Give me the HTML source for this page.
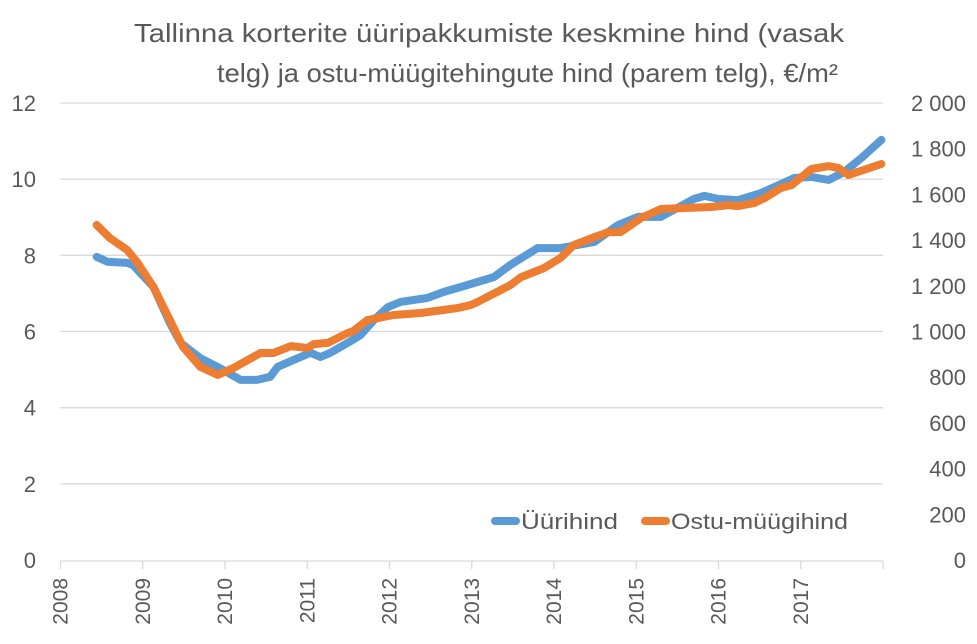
<!DOCTYPE html>
<html><head><meta charset="utf-8"><style>
body{margin:0;background:#fff}
svg text{font-family:"Liberation Sans",sans-serif;fill:#595959}
</style></head><body>
<svg width="977" height="639" viewBox="0 0 977 639" xmlns="http://www.w3.org/2000/svg">
<g>
<text x="134" y="42" font-size="26" textLength="710" lengthAdjust="spacingAndGlyphs">Tallinna korterite üüripakkumiste keskmine hind (vasak</text>
<text x="217" y="82" font-size="26" textLength="621" lengthAdjust="spacingAndGlyphs">telg) ja ostu-müügitehingute hind (parem telg), €/m²</text>
</g>
<g id="grid"></g>
<g id="axes"></g>
<g id="series"></g>
<g>
<line x1="495" y1="521" x2="516" y2="521" stroke="#5b9bd5" stroke-width="8" stroke-linecap="round"/>
<text x="521" y="529" font-size="22" textLength="97" lengthAdjust="spacingAndGlyphs">Üürihind</text>
<line x1="645" y1="521" x2="666" y2="521" stroke="#ed7d31" stroke-width="8" stroke-linecap="round"/>
<text x="671" y="529" font-size="22" textLength="177" lengthAdjust="spacingAndGlyphs">Ostu-müügihind</text>
</g>
</svg>
<script>
const rentYears=[2008.44,2008.57,2008.81,2008.88,2009.13,2009.33,2009.46,2009.70,2009.91,2010.19,2010.39,2010.55,2010.64,2010.83,2011.04,2011.16,2011.28,2011.49,2011.65,2011.81,2011.98,2012.14,2012.46,2012.66,2012.87,2013.07,2013.27,2013.47,2013.80,2014.08,2014.49,2014.78,2015.02,2015.30,2015.70,2015.83,2016.00,2016.24,2016.52,2016.92,2017.13,2017.34,2017.53,2017.74,2017.98];
const rentValues=[7.96,7.83,7.80,7.75,7.17,6.22,5.70,5.30,5.07,4.73,4.73,4.81,5.07,5.25,5.44,5.33,5.44,5.70,5.91,6.30,6.64,6.78,6.88,7.04,7.17,7.30,7.43,7.75,8.19,8.19,8.35,8.80,9.01,9.01,9.48,9.56,9.48,9.45,9.64,10.03,10.06,9.98,10.19,10.56,11.03];
const priceYears=[2008.44,2008.60,2008.81,2008.93,2009.13,2009.33,2009.49,2009.70,2009.91,2010.10,2010.43,2010.59,2010.80,2011.00,2011.08,2011.25,2011.49,2011.56,2011.73,2012.05,2012.38,2012.83,2012.99,2013.07,2013.47,2013.60,2013.88,2014.08,2014.24,2014.49,2014.66,2014.81,2015.06,2015.30,2015.55,2015.91,2016.12,2016.24,2016.43,2016.56,2016.76,2016.89,2017.13,2017.34,2017.46,2017.58,2017.98];
const priceValues=[1466,1409,1357,1304,1195,1050,932,845,810,840,906,906,936,928,945,950,993,1002,1050,1072,1081,1103,1116,1129,1203,1238,1278,1322,1378,1413,1435,1435,1497,1536,1540,1545,1553,1549,1562,1584,1628,1641,1711,1724,1715,1685,1733];
const leftTicks=[0,2,4,6,8,10,12];
const rightTicks=["0","200","400","600","800","1 000","1 200","1 400","1 600","1 800","2 000"];
const xTicks=[2008,2009,2010,2011,2012,2013,2014,2015,2016,2017];
const NS="http://www.w3.org/2000/svg";
const L=60.5,R=883,T=103,B=560;
const xs=y=>L+(y-2008)*(R-L)/10;
const yl=v=>B-v*(B-T)/12;
const yr=v=>B-v*(B-T)/2000;
function mk(tag,attrs,parent,txt){const e=document.createElementNS(NS,tag);for(const k in attrs)e.setAttribute(k,attrs[k]);if(txt!==undefined)e.textContent=txt;parent.appendChild(e);return e;}
const grid=document.getElementById('grid'),axes=document.getElementById('axes'),series=document.getElementById('series');
leftTicks.forEach(v=>{
  if(v>0){const g=mk('line',{x1:L,x2:R,y1:yl(v),y2:yl(v),stroke:'#d9d9d9','stroke-width':1.3},grid);
  
  }
  const t=mk('text',{x:36,y:yl(v)+8,'text-anchor':'end','font-size':22},axes,String(v));
  
  
});
rightTicks.forEach((s,i)=>{
  const t=mk('text',{x:966,y:yr(i*200)+8,'text-anchor':'end','font-size':22},axes,s);
  
  
});
const ax=mk('line',{x1:L,x2:R,y1:B+1,y2:B+1,stroke:'#d9d9d9','stroke-width':1.3},axes);


xTicks.concat([2018]).forEach(y=>{
  const tk=mk('line',{x1:xs(y),x2:xs(y),y1:B+1,y2:B+9,stroke:'#d9d9d9','stroke-width':1.3},axes);
  
  
});
xTicks.forEach(y=>{
  const x=xs(y)+7;
  const t=mk('text',{x:x,y:578,'text-anchor':'end','font-size':21,transform:`rotate(-90 ${x} 578)`},axes,String(y));
  
  
});
function line(xa,va,fy,color,name){
  const d=xa.map((x,i)=>(i?'L':'M')+xs(x).toFixed(1)+' '+fy(va[i]).toFixed(1)).join(' ');
  const p=mk('path',{d:d,fill:'none',stroke:color,'stroke-width':8,'stroke-linecap':'round','stroke-linejoin':'round'},series);
  
  
}
line(rentYears,rentValues,yl,'#5b9bd5','rent-line');
line(priceYears,priceValues,yr,'#ed7d31','price-line');
</script>
</body></html>
